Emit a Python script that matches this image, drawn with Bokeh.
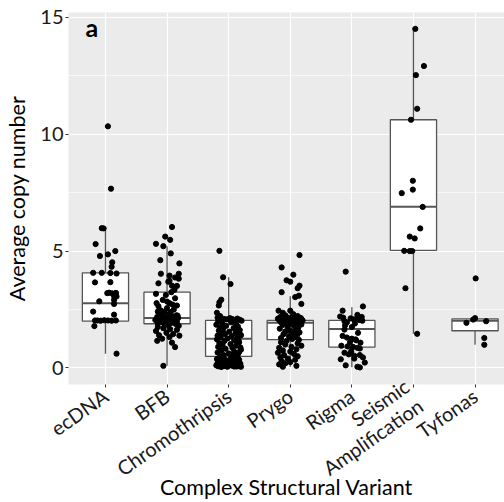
import math
from bokeh.plotting import figure
from bokeh.models import Range1d, FixedTicker, Label, ColumnDataSource
from bokeh.embed import file_html
from bokeh.resources import INLINE

# ---------------- data ----------------
categories = ["ecDNA", "BFB", "Chromothripsis", "Prygo", "Rigma",
              "Seismic\nAmplification", "Tyfonas"]
cat_pos = [1, 2, 3, 4, 5, 6, 7]
x_title = "Complex Structural Variant"
y_title = "Average copy number"

# box statistics
q1 = [2.00, 1.89, 0.49, 1.21, 0.89, 5.03, 1.59]
median = [2.77, 2.14, 1.25, 1.93, 1.67, 6.90, 2.02]
q3 = [4.07, 3.24, 2.03, 2.03, 2.03, 10.62, 2.10]
whisk_lo = [0.61, 0.09, 0.03, 0.05, 0.03, 1.46, 0.99]
whisk_hi = [5.98, 5.21, 3.88, 3.07, 2.60, 14.51, 2.13]

# jittered points: value and horizontal jitter (category units)
ecdna_y = [10.34, 7.67, 5.98, 5.97, 5.30, 5.00, 4.79, 4.86, 4.52, 4.33, 4.07, 4.07,
           4.06, 4.04, 3.66, 3.67, 3.20, 3.22, 3.19, 3.21, 3.08, 3.06, 2.85, 2.91,
           2.74, 2.41, 2.28, 2.03, 2.03, 2.02, 2.04, 2.03, 2.02, 2.03, 1.79, 0.61]
ecdna_dx = [0.04, 0.09, -0.06, -0.03, -0.16, 0.16, -0.09, 0.04, 0.11, 0.10, -0.20, -0.06,
            0.08, 0.18, -0.17, 0.08, 0.03, 0.06, 0.11, 0.17, 0.14, 0.18, -0.10, 0.14,
            0.14, -0.20, 0.14, -0.17, -0.13, -0.08, -0.02, 0.04, 0.10, 0.17, -0.18, 0.18]

bfb_y = [6.03, 5.62, 5.48, 5.31, 5.21, 4.90, 4.61, 4.47, 4.03, 3.95, 3.87, 4.03, 3.82,
         3.62, 3.69, 3.73, 3.52, 3.51, 3.34, 3.17, 3.12, 3.24, 2.91, 2.84, 2.77, 2.77,
         2.64, 2.41, 2.98, 2.71, 2.67, 2.56, 2.41, 2.39, 2.50, 2.46,
         2.32, 2.28, 2.25, 2.22, 2.20, 2.18, 2.16, 2.14, 2.12, 2.10, 2.08, 2.06, 2.05,
         2.04, 2.02, 2.00, 1.99, 1.97, 1.95, 1.93, 1.90, 1.88, 1.86, 1.83, 1.80, 2.11,
         2.07, 2.01, 1.96, 2.15, 2.24,
         1.75, 1.70, 1.66, 1.63, 1.58, 1.50, 1.45, 1.40, 1.38, 1.32, 1.25, 1.16, 1.08,
         0.89, 0.09]
bfb_dx = [0.08, -0.03, 0.05, -0.18, -0.06, 0.06, -0.11, 0.20, -0.10, 0.04, 0.13, 0.19, 0.19,
          -0.14, 0.02, 0.04, 0.08, 0.16, 0.12, -0.18, -0.02, 0.07, -0.07, 0.00, 0.04, -0.17,
          -0.14, -0.15, 0.13, 0.09, 0.16, 0.00, -0.04, 0.06, 0.11, -0.10,
          -0.12, 0.03, 0.15, -0.06, 0.09, -0.16, 0.01, 0.18, -0.09, 0.06, -0.03, 0.12, -0.19,
          0.04, -0.13, 0.10, -0.01, 0.16, -0.07, 0.07, -0.15, 0.14, -0.04, 0.02, 0.19, -0.11,
          0.08, -0.02, 0.13, -0.08, 0.17,
          -0.15, -0.06, 0.05, 0.16, -0.18, -0.01, 0.10, -0.13, 0.20, 0.04, -0.08, -0.16, 0.08,
          0.13, -0.06]

chromo_y = [5.01, 3.88, 3.59, 2.92, 2.81, 2.67, 2.36, 2.22,
            2.15, 2.12, 2.10, 2.08, 2.13, 2.09, 2.05, 2.11, 2.06, 2.02,
            1.98, 1.95, 1.90, 1.88, 1.85, 1.80, 1.78, 1.72, 1.70, 1.66, 1.62, 1.60,
            1.55, 1.52, 1.48, 1.45, 1.42, 1.38, 1.35, 1.32, 1.28, 1.26, 1.22, 1.18,
            1.15, 1.10, 1.06, 1.02, 0.98, 0.95, 0.90, 0.86, 0.82, 0.78, 0.75, 0.70,
            0.66, 0.62, 0.58, 0.55, 0.50, 0.46, 0.42, 0.38, 0.35, 0.32, 0.30, 0.28,
            0.25, 0.22, 0.20, 0.18, 0.16, 0.14, 0.12, 0.11, 0.10, 0.09, 0.08, 0.07,
            0.06, 0.05, 0.05, 0.04, 0.06, 0.08, 0.10, 0.13, 0.17, 0.21, 0.27, 0.33,
            0.40, 0.48, 0.57, 1.20, 1.40, 1.58, 0.88, 0.68]
chromo_dx = [-0.15, -0.09, 0.03, -0.12, -0.15, -0.16, -0.19, -0.14,
             -0.18, -0.13, -0.08, -0.03, 0.02, 0.06, 0.10, 0.14, 0.18, 0.21,
             -0.17, 0.04, -0.10, 0.12, -0.20, -0.04, 0.15, -0.14, 0.08, -0.09, 0.18, -0.16,
             0.01, -0.11, 0.11, -0.06, 0.19, -0.18, 0.05, -0.13, 0.14, -0.02, -0.19, 0.09,
             -0.07, 0.17, -0.15, 0.03, -0.10, 0.12, -0.17, 0.06, -0.05, 0.20, -0.12, 0.09,
             -0.18, 0.00, 0.15, -0.08, -0.14, 0.10, 0.04, -0.19, 0.17, -0.04, -0.11, 0.13,
             0.07, -0.16, 0.02, 0.19, -0.09, -0.13, 0.11, -0.20, 0.05, -0.06, 0.16, -0.17,
             0.09, -0.02, 0.20, -0.12, 0.13, -0.08, -0.15, 0.18, 0.01, -0.18, 0.10, -0.05,
             0.15, -0.10, 0.07, 0.16, 0.20, 0.13, 0.19, 0.17]

prygo_y = [4.83, 4.30, 3.99, 3.75, 3.69, 3.52, 3.41, 3.24, 3.09, 3.03, 2.74,
           2.45, 2.36, 2.45, 2.30, 2.25, 2.22, 2.18, 2.15, 2.14, 2.12, 2.10, 2.08,
           2.07, 2.05, 2.04, 2.03, 2.02, 2.01, 2.00, 1.99, 1.98, 1.96, 1.95, 1.93,
           1.90, 1.88, 1.86, 1.84, 1.80, 1.76, 1.72, 1.68, 1.64, 1.60, 1.56, 1.52,
           1.48, 1.44, 1.40, 1.36, 1.32, 1.28, 1.24, 1.20, 1.16, 1.10, 1.05, 1.00,
           0.95, 0.90, 0.86, 0.80, 0.75, 0.70, 0.65, 0.60, 0.55, 0.50, 0.45, 0.40,
           0.35, 0.30, 0.25, 0.20, 0.15, 0.09, 0.05, 2.11, 2.06, 1.97, 2.09, 2.16,
           2.20, 1.94]
prygo_dx = [0.15, -0.14, 0.05, -0.06, 0.00, 0.15, 0.12, -0.14, 0.14, 0.08, 0.18,
            -0.19, -0.12, 0.00, 0.05, -0.08, 0.12, -0.16, 0.02, 0.17, -0.10, 0.08, -0.04,
            0.14, -0.18, 0.04, 0.20, -0.13, 0.10, -0.06, 0.16, -0.02, 0.07, -0.15, 0.12,
            -0.09, 0.03, 0.18, -0.12, 0.06, -0.04, 0.13, -0.17, 0.09, 0.00, -0.08, 0.15,
            0.05, -0.11, 0.11, -0.02, 0.08, -0.15, 0.03, 0.14, -0.06, -0.15, 0.12, -0.08,
            0.18, 0.02, -0.18, 0.10, -0.12, 0.00, -0.20, 0.06, -0.10, 0.12, -0.16, -0.04,
            0.08, -0.14, 0.00, -0.08, -0.18, 0.10, -0.12, -0.20, 0.19, -0.11, 0.11, -0.05,
            0.07, 0.01]

rigma_y = [4.12, 2.63, 2.45, 2.27, 2.20, 2.15, 2.12, 2.08, 2.10, 2.05, 2.02, 2.00,
           1.95, 1.82, 1.64, 1.50, 1.37, 1.30, 1.25, 1.22, 1.18, 1.08, 0.95, 0.92,
           0.90, 0.86, 0.83, 0.65, 0.58, 0.52, 0.55, 0.45, 0.37, 0.40, 0.23, 0.11,
           0.05, 0.02, 1.75, 1.90, 1.10, 2.18, 2.07, 0.72]
rigma_dx = [-0.10, 0.18, -0.15, 0.09, -0.19, -0.14, -0.02, 0.03, 0.08, 0.13, 0.17, -0.12,
            -0.08, -0.11, -0.12, 0.10, -0.15, -0.08, 0.00, 0.06, 0.07, 0.14, -0.17, -0.07,
            0.02, 0.09, 0.13, -0.12, -0.05, 0.04, 0.13, 0.18, -0.18, 0.04, 0.21, -0.10,
            0.09, 0.13, 0.00, 0.05, -0.03, 0.16, 0.11, -0.01]

seismic_y = [14.51, 12.92, 12.53, 11.09, 10.62, 8.01, 7.63, 7.48, 6.89, 5.97, 5.62,
             5.54, 5.01, 5.00, 5.00, 3.41, 1.46]
seismic_dx = [0.03, 0.17, 0.04, 0.06, -0.04, -0.01, -0.01, -0.19, 0.15, 0.11, -0.06,
              0.02, -0.15, -0.06, -0.02, -0.13, 0.06]

tyfonas_y = [3.83, 2.13, 2.07, 2.00, 1.93, 1.28, 0.99]
tyfonas_dx = [0.01, 0.00, -0.03, 0.18, -0.14, 0.15, 0.15]

y_ticks = [0, 5, 10, 15]
y_minor = [2.5, 7.5, 12.5]

# ---------------- figure ----------------
FONT = "Lato"
Y0, Y1 = -0.71, 15.21
p = figure(width=504, height=502,
           x_range=Range1d(0.4, 7.478), y_range=Range1d(Y0, Y1),
           output_backend="svg", toolbar_location=None,
           min_border_left=68, min_border_right=0, min_border_top=12,
           min_border_bottom=116)
p.background_fill_color = "#EBEBEB"
p.border_fill_color = "white"
p.outline_line_color = None

# grids
p.xgrid.grid_line_color = "white"
p.xgrid.grid_line_width = 1.2
p.ygrid.grid_line_color = "white"
p.ygrid.grid_line_width = 1.2
p.ygrid.minor_grid_line_color = "white"
p.ygrid.minor_grid_line_width = 0.6

# axes
p.xaxis.ticker = FixedTicker(ticks=cat_pos)
p.xaxis.major_label_overrides = {k: v for k, v in zip(cat_pos, categories)}
p.xaxis.major_label_orientation = math.radians(35)
p.yaxis.ticker = FixedTicker(ticks=y_ticks, minor_ticks=y_minor)
for ax in (p.xaxis, p.yaxis):
    ax.axis_line_color = None
    ax.major_tick_line_color = "#333333"
    ax.major_tick_in = 0
    ax.major_tick_out = 3
    ax.minor_tick_line_color = None
    ax.major_label_text_font = FONT
    ax.major_label_text_font_size = "20px"
    ax.major_label_text_color = "#1a1a1a"
    ax.axis_label_text_font = FONT
    ax.axis_label_text_font_size = "21.5px"
    ax.axis_label_text_font_style = "normal"
    ax.axis_label_text_color = "black"
p.yaxis.major_label_standoff = 1
p.yaxis.axis_label = y_title
p.yaxis.axis_label_standoff = 7
p.xaxis.major_label_standoff = 6
p.xaxis.major_label_text_line_height = 1.0
p.xaxis.axis_label = x_title
p.xaxis.axis_label_standoff = -29

# boxes
box_src = ColumnDataSource(dict(
    x=cat_pos, q1=q1, q3=q3, med=median, lo=whisk_lo, hi=whisk_hi,
    x0=[c - 0.375 for c in cat_pos], x1=[c + 0.375 for c in cat_pos]))
BOXC = "#555555"
p.segment(x0="x", y0="q3", x1="x", y1="hi", source=box_src, line_color=BOXC, line_width=1.3)
p.segment(x0="x", y0="lo", x1="x", y1="q1", source=box_src, line_color=BOXC, line_width=1.3)
p.vbar(x="x", width=0.75, bottom="q1", top="q3", source=box_src,
       fill_color="white", line_color=BOXC, line_width=1.3)
p.segment(x0="x0", y0="med", x1="x1", y1="med", source=box_src, line_color=BOXC, line_width=2.0)

# points
groups = [(ecdna_y, ecdna_dx), (bfb_y, bfb_dx), (chromo_y, chromo_dx),
          (prygo_y, prygo_dx), (rigma_y, rigma_dx), (seismic_y, seismic_dx),
          (tyfonas_y, tyfonas_dx)]
px, py = [], []
for c, (ys, dxs) in zip(cat_pos, groups):
    for yv, dv in zip(ys, dxs):
        px.append(c + dv)
        py.append(yv)
p.scatter(x=px, y=py, size=5.2, color="black")

# panel tag
p.add_layout(Label(x=0.676, y=14.58, text="a", text_font=FONT, text_font_style="bold",
                   text_font_size="25px", text_baseline="alphabetic", text_color="black"))

open("out.html", "w").write(file_html(p, INLINE))
